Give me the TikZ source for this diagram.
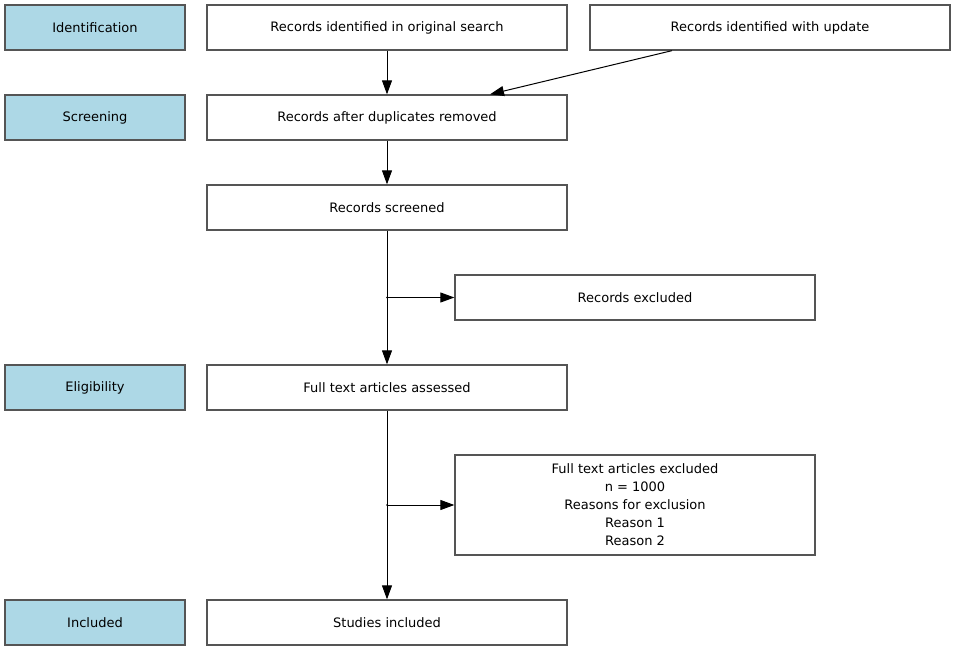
\documentclass[tikz,border=0pt]{standalone}
\usepackage{fontspec}
\setmainfont{DejaVu Sans}
\usetikzlibrary{arrows.meta}
\definecolor{stageblue}{RGB}{173,216,230}
\definecolor{boxgray}{RGB}{85,85,85}

\begin{document}
\begin{tikzpicture}[x=1pt,y=-1pt,
        font=\fontsize{13}{18}\selectfont,
        box/.style={draw=boxgray, line width=1.3pt, fill=white,
            minimum width=360pt, minimum height=45pt, inner sep=0pt,
            align=center},
        stage/.style={box, fill=stageblue, minimum width=180pt},
        flow/.style={line width=1pt, -{Triangle[length=14pt,width=10pt]}}]
    \useasboundingbox (0,0) rectangle (955,650);
    % phases
    \node[stage] (identification) at (95,27.5) {Identification};
    \node[stage] (screening) at (95,117.5) {Screening};
    \node[stage] (eligibility) at (95,387.5) {Eligibility};
    \node[stage] (included) at (95,622.5) {Included};
    % records
    \node[box] (original) at (387,27.5) {Records identified in original search};
    \node[box] (update) at (770,27.5) {Records identified with update};
    \node[box] (duplicates) at (387,117.5) {Records after duplicates removed};
    \node[box] (screened) at (387,207.5) {Records screened};
    \node[box] (excluded) at (635,297.5) {Records excluded};
    \node[box] (fulltext) at (387,387.5) {Full text articles assessed};
    \node[box, minimum height=100pt] (ftexcluded) at (635,505)
        {Full text articles excluded\\n = 1000\\Reasons for exclusion\\Reason 1\\Reason 2};
    \node[box] (studies) at (387,622.5) {Studies included};
    % connectors
    \draw[flow] (original) -- (duplicates);
    \draw[flow] ([xshift=-98pt]update.south) -- ([xshift=103pt]duplicates.north);
    \draw[flow] (duplicates) -- (screened);
    \draw[flow] (screened) -- (fulltext);
    \coordinate (split1) at (screened.south |- excluded.west);
    \fill (split1) circle (1pt);
    \draw[flow] (split1) -- (excluded.west);
    \draw[flow] (fulltext) -- (studies);
    \coordinate (split2) at (fulltext.south |- ftexcluded.west);
    \fill (split2) circle (1pt);
    \draw[flow] (split2) -- (ftexcluded.west);
\end{tikzpicture}
\end{document}
